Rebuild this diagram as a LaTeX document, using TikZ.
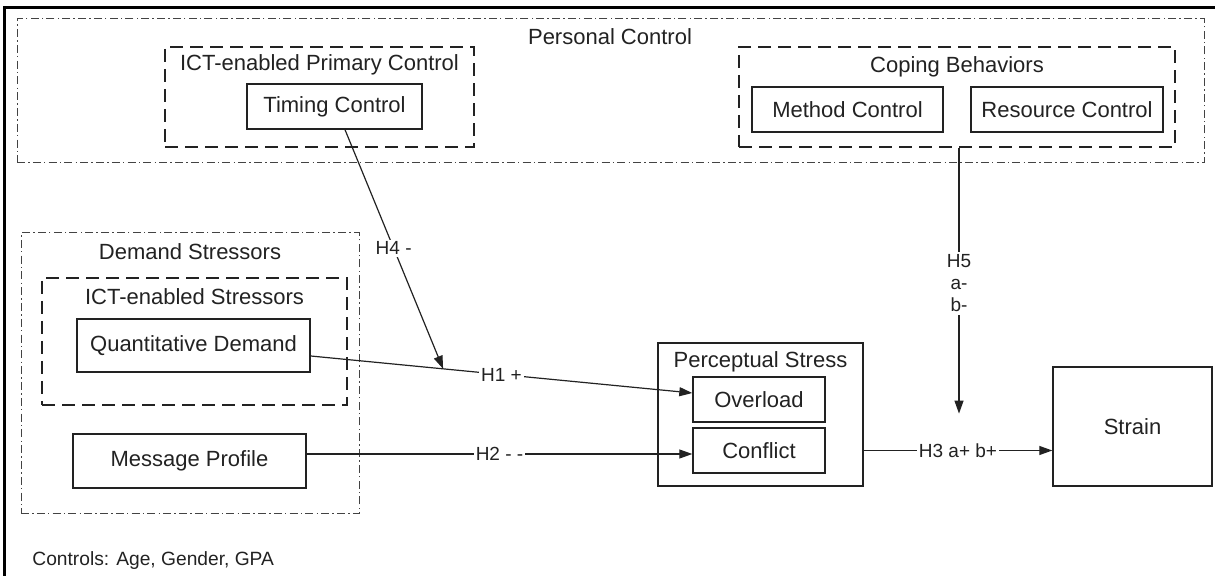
\documentclass[tikz,border=0pt]{standalone}
\usepackage{fontspec}
\setmainfont{Liberation Sans}
\usetikzlibrary{arrows.meta,calc}
\definecolor{ink}{HTML}{222222}
\begin{document}
\begin{tikzpicture}[x=0.5pt,y=-0.5pt,
  box/.style={draw=ink,line width=0.7pt,inner sep=0pt,text=ink,font=\fontsize{11}{13}\selectfont},
  grp/.style={draw=ink!85,line width=0.5pt,inner sep=0pt,dash pattern=on 4pt off 1.6pt on 0.7pt off 1.6pt},
  sub/.style={draw=ink,line width=0.6pt,inner sep=0pt,dash pattern=on 6.5pt off 3.5pt},
  title/.style={inner sep=0pt,text=ink,font=\fontsize{11}{13}\selectfont},
  conn/.style={draw=ink,line width=0.6pt,-{Triangle[length=6.5pt,width=4.5pt]}},
  lbl/.style={fill=white,inner sep=1pt,text=ink,font=\fontsize{9.5}{11}\selectfont},
  frame/.style={draw=black,line width=1.5pt}]
\useasboundingbox (0,0) rectangle (1215,576);
% outer frame (top and left)
\draw[frame] (4,576) -- (4,8) -- (1215,8);
% Personal Control group
\node[grp,minimum width=593.5pt,minimum height=72pt] (pc) at (610.5,91) {};
\node[title] (pcl) at (610,37) {Personal Control};
\node[sub,minimum width=154.5pt,minimum height=50pt] (ipc) at (319.5,97) {};
\node[title] (ipcl) at (319.5,65) {ICT-enabled Primary Control};
\node[box,minimum width=87.5pt,minimum height=22.5pt] (tc) at (334.5,106.5) {Timing Control};
\node[sub,minimum width=218pt,minimum height=50pt] (cb) at (957,97) {};
\node[title] (cbl) at (957,67) {Coping Behaviors};
\node[box,minimum width=95.5pt,minimum height=22.5pt] (mc) at (847.5,109.5) {Method Control};
\node[box,minimum width=96pt,minimum height=22.5pt] (rc) at (1067,109.5) {Resource Control};
% Demand Stressors group
\node[grp,minimum width=169pt,minimum height=140.5pt] (ds) at (190,373.5) {};
\node[title] (dsl) at (190,252) {Demand Stressors};
\node[sub,minimum width=152.5pt,minimum height=63.5pt] (ies) at (194.5,341.5) {};
\node[title] (iesl) at (194.5,297) {ICT-enabled Stressors};
\node[box,minimum width=116.5pt,minimum height=26.5pt] (qd) at (193.5,345.5) {Quantitative Demand};
\node[box,minimum width=116.5pt,minimum height=27pt] (mp) at (189.5,461) {Message Profile};
% Perceptual Stress
\node[box,minimum width=102.5pt,minimum height=71.5pt] (ps) at (760.5,414.5) {};
\node[title] (psl) at (760.5,362) {Perceptual Stress};
\node[box,minimum width=66pt,minimum height=22.5pt] (ov) at (759,399.5) {Overload};
\node[box,minimum width=66pt,minimum height=22.5pt] (cf) at (759,450.5) {Conflict};
% Strain
\node[box,minimum width=79.5pt,minimum height=59.5pt] (st) at (1132.5,426.5) {Strain};
% controls
\node[anchor=west,inner sep=0pt,text=ink,font=\fontsize{9.6}{11}\selectfont] (ctl) at (32,561) {Controls: Age, Gender, GPA};
% connectors
\coordinate (h1s) at ($(qd.east)+(0,10.5)$);
\coordinate (h1e) at ($(ov.west)+(0,-6.5)$);
\draw[conn] (h1s) -- node[lbl] (h1l) {H1 +} (h1e);
\coordinate (h4s) at ($(tc.south)+(10.5,0)$);
\coordinate (h4e) at ($(h1s)!0.347!(h1e)$);
\draw[conn] (h4s) -- node[lbl,pos=0.496] (h4l) {H4 -} (h4e);
\coordinate (h2s) at ($(mp.east)+(0,-7)$);
\draw[conn] (h2s) -- node[lbl] (h2l) {H2 - -} (h2s -| cf.west);
\draw[conn] (ps.east |- cf.east) -- node[lbl] (h3l) {H3 a+ b+} (st.west |- cf.east);
\coordinate (h5s) at ($(cb.south)+(2,0)$);
\coordinate (h5e) at ($(cb.south)+(2,266)$);
\draw[conn] (h5s) -- node[lbl,pos=0.511,align=center,inner sep=1.5pt] (h5l) {H5\\a-\\b-} (h5e);
\end{tikzpicture}
\end{document}
